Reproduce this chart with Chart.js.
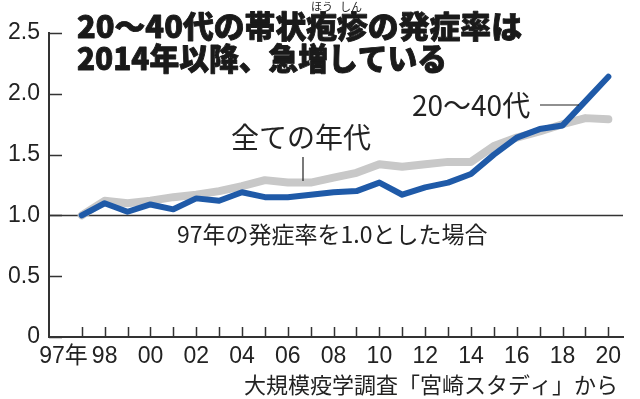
<!DOCTYPE html>
<html lang="ja">
<head>
<meta charset="utf-8">
<title>帯状疱疹の発症率</title>
<script src="https://cdn.jsdelivr.net/npm/chart.js"></script>
<style>
    body { margin: 0; background: white; }
    #wrap { width: 640px; height: 399px; }
</style>
</head>
<body>
<div id="wrap"><canvas id="chart" width="640" height="399"></canvas></div>
<script>
    // data (1997 = 1.0)
    const years = [1997, 1998, 1999, 2000, 2001, 2002, 2003, 2004, 2005, 2006, 2007, 2008,
                   2009, 2010, 2011, 2012, 2013, 2014, 2015, 2016, 2017, 2018, 2019, 2020];
    const age20to40 = [1.00, 1.10, 1.03, 1.09, 1.05, 1.14, 1.12, 1.19, 1.15, 1.15, 1.17, 1.19,
                       1.20, 1.27, 1.17, 1.23, 1.27, 1.34, 1.50, 1.64, 1.71, 1.74, 1.94, 2.14];
    const allAges = [1.00, 1.12, 1.10, 1.12, 1.15, 1.17, 1.20, 1.24, 1.29, 1.27, 1.27, 1.31,
                     1.35, 1.42, 1.40, 1.42, 1.44, 1.44, 1.57, 1.64, 1.69, 1.75, 1.80, 1.79];
    const yTicks = [0, 0.5, 1.0, 1.5, 2.0, 2.5];
    const xTickLabels = { 1997: '97年', 1998: '98', 2000: '00', 2002: '02', 2004: '04', 2006: '06',
                          2008: '08', 2010: '10', 2012: '12', 2014: '14', 2016: '16', 2018: '18', 2020: '20' };

    const numFont = '"Liberation Sans", "Noto Sans CJK JP", sans-serif';
    const jpFont = '"Noto Sans CJK JP", sans-serif';
    const ink = '#222';

    // axis ticks pointing inward, x labels, baseline at 1.0, titles and notes
    const decor = {
        id: 'decor',
        beforeDatasetsDraw(chart) {
            const { ctx, chartArea, scales } = chart;
            const y1 = scales.y.getPixelForValue(1.0);
            ctx.save();
            ctx.strokeStyle = '#333';
            ctx.lineWidth = 1.5;
            ctx.beginPath();
            ctx.moveTo(chartArea.left, y1);
            ctx.lineTo(chartArea.right, y1);
            ctx.stroke();
            ctx.restore();
        },
        afterDraw(chart) {
            const { ctx, chartArea, scales } = chart;
            const x = scales.x, y = scales.y;
            ctx.save();
            ctx.strokeStyle = '#333';
            ctx.lineWidth = 1.5;
            ctx.beginPath();
            yTicks.forEach(v => {
                const py = Math.round(y.getPixelForValue(v)) + 0.5;
                ctx.moveTo(chartArea.left, py);
                ctx.lineTo(chartArea.left + 13, py);
            });
            years.forEach(yr => {
                const px = Math.round(x.getPixelForValue(yr)) + 0.5;
                ctx.moveTo(px, chartArea.bottom);
                ctx.lineTo(px, chartArea.bottom - 10);
            });
            ctx.stroke();

            ctx.fillStyle = ink;
            ctx.font = '23px ' + numFont;
            ctx.textBaseline = 'alphabetic';
            Object.keys(xTickLabels).forEach(k => {
                const px = x.getPixelForValue(+k);
                if (+k === 1997) {
                    ctx.textAlign = 'right';
                    ctx.fillText(xTickLabels[k], px + 6, 363);
                } else {
                    ctx.textAlign = 'center';
                    ctx.fillText(xTickLabels[k], px, 363);
                }
            });

            // title (a thin stroke makes it heavier, like the print face)
            ctx.textAlign = 'left';
            ctx.fillStyle = '#1a1a1a';
            ctx.strokeStyle = '#1a1a1a';
            ctx.lineWidth = 0.9;
            ctx.lineJoin = 'round';
            ctx.font = '900 31px ' + jpFont;
            [['20～40代の帯状疱疹の発症率は', 445], ['2014年以降、急増している', 370]].forEach(([t, w], i) => {
                ctx.fillText(t, 77, 38 + i * 32, w);
                ctx.strokeText(t, 77, 38 + i * 32, w);
            });
            ctx.font = '11px ' + jpFont;
            ctx.fillText('ほう', 311, 11);
            ctx.fillText('しん', 340, 11);

            // series notes
            ctx.fillStyle = ink;
            ctx.font = '28px ' + jpFont;
            ctx.fillText('全ての年代', 231, 148);
            ctx.fillText('20～40代', 412, 116);
            ctx.font = '23px ' + jpFont;
            ctx.fillText('97年の発症率を1.0とした場合', 177, 243);
            ctx.font = '22px ' + jpFont;
            ctx.textAlign = 'right';
            ctx.fillText('大規模疫学調査「宮崎スタディ」から', 618, 393);

            ctx.strokeStyle = ink;
            ctx.lineWidth = 1.2;
            ctx.beginPath();
            ctx.moveTo(303, 157);
            ctx.lineTo(303, 181);
            ctx.moveTo(540, 105);
            ctx.lineTo(579, 105);
            ctx.stroke();
            ctx.restore();
        }
    };

    new Chart(document.getElementById('chart').getContext('2d'), {
        type: 'line',
        data: {
            datasets: [
                {
                    label: '20～40代',
                    data: years.map((yr, i) => ({ x: yr, y: age20to40[i] })),
                    borderColor: '#1f5aa8',
                    borderWidth: 6,
                    pointRadius: 0,
                    tension: 0,
                    borderJoinStyle: 'round',
                    borderCapStyle: 'round',
                    order: 0
                },
                {
                    label: '全ての年代',
                    data: years.map((yr, i) => ({ x: yr, y: allAges[i] })),
                    borderColor: '#c8c8c8',
                    borderWidth: 8,
                    pointRadius: 0,
                    tension: 0,
                    borderJoinStyle: 'round',
                    borderCapStyle: 'round',
                    order: 1
                }
            ]
        },
        options: {
            responsive: false,
            animation: false,
            layout: { padding: { top: 33, right: 17, left: 0, bottom: 0 } },
            plugins: {
                legend: { display: false },
                tooltip: { enabled: false }
            },
            scales: {
                x: {
                    type: 'linear',
                    min: 1995.57,
                    max: 2020.64,
                    grid: { display: false },
                    border: { display: true, color: '#333', width: 2 },
                    ticks: { display: false },
                    afterFit: s => { s.height = 62; }
                },
                y: {
                    min: 0,
                    max: 2.5,
                    grid: { display: false, drawTicks: false },
                    border: { display: true, color: '#333', width: 2 },
                    afterBuildTicks: s => { s.ticks = yTicks.map(v => ({ value: v })); },
                    ticks: {
                        padding: 9,
                        color: ink,
                        font: { family: numFont, size: 23 },
                        callback: v => v === 0 ? '0' : v.toFixed(1)
                    },
                    afterFit: s => { s.width = 49; }
                }
            }
        },
        plugins: [decor]
    });
</script>
</body>
</html>
